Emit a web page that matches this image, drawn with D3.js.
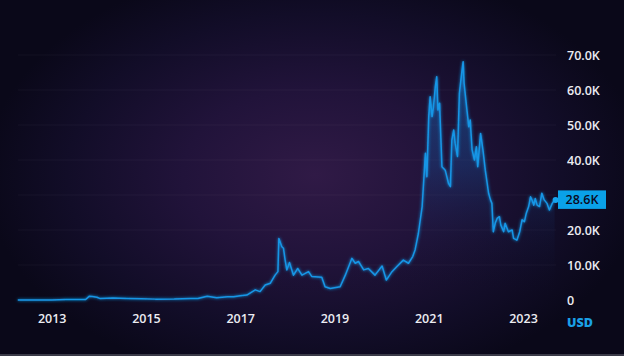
<!DOCTYPE html>
<html><head><meta charset="utf-8">
<script src="https://cdn.jsdelivr.net/npm/d3@7"></script>
<style>html,body{margin:0;padding:0;background:#0a0819;}svg{display:block;}</style>
</head><body><svg id="c" width="624" height="356"></svg>
<script>
// time in fractional years, price in USD
const time = [2012.28,2013.0,2013.3,2013.72,2013.8,2013.86,2013.96,2014.03,2014.3,2014.6,2014.9,2015.2,2015.6,2015.95,2016.1,2016.3,2016.5,2016.73,2016.86,2017.0,2017.14,2017.32,2017.42,2017.53,2017.64,2017.74,2017.80,2017.82,2017.883,2017.917,2017.953,2017.989,2018.045,2018.13,2018.22,2018.31,2018.45,2018.52,2018.73,2018.80,2018.91,2019.12,2019.23,2019.37,2019.44,2019.51,2019.62,2019.72,2019.86,2020.01,2020.10,2020.22,2020.32,2020.46,2020.57,2020.66,2020.71,2020.78,2020.86,2020.89,2020.93,2020.96,2021.00,2021.03,2021.07,2021.10,2021.14,2021.17,2021.195,2021.23,2021.28,2021.35,2021.42,2021.46,2021.49,2021.53,2021.56,2021.61,2021.65,2021.69,2021.73,2021.75,2021.81,2021.85,2021.88,2021.92,2021.97,2022.01,2022.04,2022.10,2022.15,2022.20,2022.27,2022.31,2022.34,2022.37,2022.41,2022.45,2022.50,2022.53,2022.59,2022.62,2022.69,2022.77,2022.80,2022.87,2022.93,2022.98,2023.03,2023.07,2023.12,2023.16,2023.19,2023.23,2023.26,2023.30,2023.35,2023.40,2023.45,2023.51,2023.56,2023.62,2023.67];
const price = [5,13,120,140,1100,1000,800,400,550,450,350,250,260,400,420,1050,650,900,900,1200,1400,2900,2400,4300,4800,7100,8100,17600,15200,14800,11400,8600,10700,7100,9000,7100,8100,6700,6500,3800,3300,3800,7100,11900,10500,11000,8600,9000,7100,9700,5700,8100,9500,11400,10500,12400,14300,19000,26700,33300,41900,35200,52400,58100,52400,55200,61000,63800,54300,56200,38100,37100,33300,32400,45700,48600,44800,41000,59000,63800,68100,61900,54300,49500,51400,42900,40000,43800,38100,47600,42900,37100,30500,28600,27600,19500,21900,23300,23800,21400,19500,21900,19500,20000,17600,17100,19500,22900,22400,24800,26700,29500,28600,27100,29000,27100,26700,30500,28600,27600,25700,27600,28600];
const yTicks = [0,10000,20000,30000,40000,50000,60000,70000];
const yTickLabels = ["0","10.0K","20.0K","30.0K","40.0K","50.0K","60.0K","70.0K"];
const xTicks = [2013,2015,2017,2019,2021,2023];
const lastLabel = "28.6K";
const unitLabel = "USD";

const W = 624, H = 356;
const svg = d3.select("#c");
const defs = svg.append("defs");

const rg = defs.append("radialGradient").attr("id","bg").attr("cx",0.5).attr("cy",0.5).attr("r",0.5);
rg.append("stop").attr("offset","0%").attr("stop-color","#301a46");
rg.append("stop").attr("offset","40%").attr("stop-color","#21133a");
rg.append("stop").attr("offset","75%").attr("stop-color","#120d28");
rg.append("stop").attr("offset","100%").attr("stop-color","#0a0819");
svg.append("rect").attr("width",W).attr("height",H).attr("fill","#0a0819");
svg.append("ellipse").attr("cx",315).attr("cy",175).attr("rx",330).attr("ry",215).attr("fill","url(#bg)");

const x = d3.scaleLinear().domain([2013,2023]).range([51.7,523]);
const y = d3.scaleLinear().domain([0,70000]).range([300,55]);

svg.append("g").selectAll("line").data(yTicks.slice(1)).join("line")
  .attr("x1",18).attr("x2",556).attr("y1",d=>y(d)).attr("y2",d=>y(d))
  .attr("stroke","#ffffff").attr("stroke-opacity",0.04).attr("stroke-width",1);

const data = time.map((t,i)=>({t, v: price[i]}));

const ag = defs.append("linearGradient").attr("id","ag")
  .attr("gradientUnits","userSpaceOnUse").attr("x1",0).attr("x2",0).attr("y1",y(70000)).attr("y2",y(0));
ag.append("stop").attr("offset","0%").attr("stop-color","#1a6fc0").attr("stop-opacity",0.55);
ag.append("stop").attr("offset","45%").attr("stop-color","#17509a").attr("stop-opacity",0.35);
ag.append("stop").attr("offset","75%").attr("stop-color","#152a5c").attr("stop-opacity",0.1);
ag.append("stop").attr("offset","100%").attr("stop-color","#0b0a1e").attr("stop-opacity",0);

const area = d3.area().x(d=>x(d.t)).y0(y(0)).y1(d=>y(d.v));
svg.append("path").datum(data).attr("d",area).attr("fill","url(#ag)");

const f = defs.append("filter").attr("id","glow").attr("x","-10%").attr("y","-10%").attr("width","120%").attr("height","120%");
f.append("feGaussianBlur").attr("stdDeviation",1.5).attr("result","b");
const m = f.append("feMerge"); m.append("feMergeNode").attr("in","b"); m.append("feMergeNode").attr("in","SourceGraphic");

const line = d3.line().x(d=>x(d.t)).y(d=>y(d.v));
svg.append("path").datum(data).attr("d",line).attr("fill","none")
  .attr("stroke","#1596e6").attr("stroke-width",1.5).attr("stroke-linejoin","round").attr("filter","url(#glow)");

const last = data[data.length-1];
svg.append("circle").attr("cx",x(last.t)+1).attr("cy",y(last.v)).attr("r",3).attr("fill","#16a3ee");

const font = "'Open Sans', sans-serif";
const yAxis = d3.axisRight(y).tickValues(yTicks).tickSize(0).tickPadding(0)
  .tickFormat((d,i)=>yTickLabels[i]);
const ya = svg.append("g").attr("transform","translate(567,0)").call(yAxis);
ya.select(".domain").remove();
ya.selectAll("text").attr("fill","#ececf2").attr("font-family",font)
  .attr("font-size",12.5).attr("font-weight",600).attr("dy","0.35em");
ya.selectAll(".tick").filter(d=>d===30000).remove();

const xAxis = d3.axisBottom(x).tickValues(xTicks).tickSize(0).tickPadding(0).tickFormat(d3.format("d"));
const xa = svg.append("g").attr("transform","translate(0,314)").call(xAxis);
xa.select(".domain").remove();
xa.selectAll("text").attr("fill","#ececf2").attr("font-family",font)
  .attr("font-size",12.5).attr("font-weight",600);

const by = y(last.v);
svg.append("rect").attr("x",558).attr("y",by-9.5).attr("width",48).attr("height",18.5).attr("fill","#0aa1e8");
svg.append("text").attr("x",582).attr("y",by).attr("dy","0.36em").attr("text-anchor","middle")
  .attr("fill","#0b0a1e").attr("font-family",font).attr("font-size",12.5).attr("font-weight",600)
  .text(lastLabel);

svg.append("text").attr("x",567).attr("y",323).attr("dy","0.35em").attr("fill","#1aa0e6")
  .attr("font-family",font).attr("font-size",12.5).attr("font-weight",800).text(unitLabel);

svg.append("rect").attr("x",0).attr("y",354).attr("width",W).attr("height",2).attr("fill","#3a3a48");
</script></body></html>
